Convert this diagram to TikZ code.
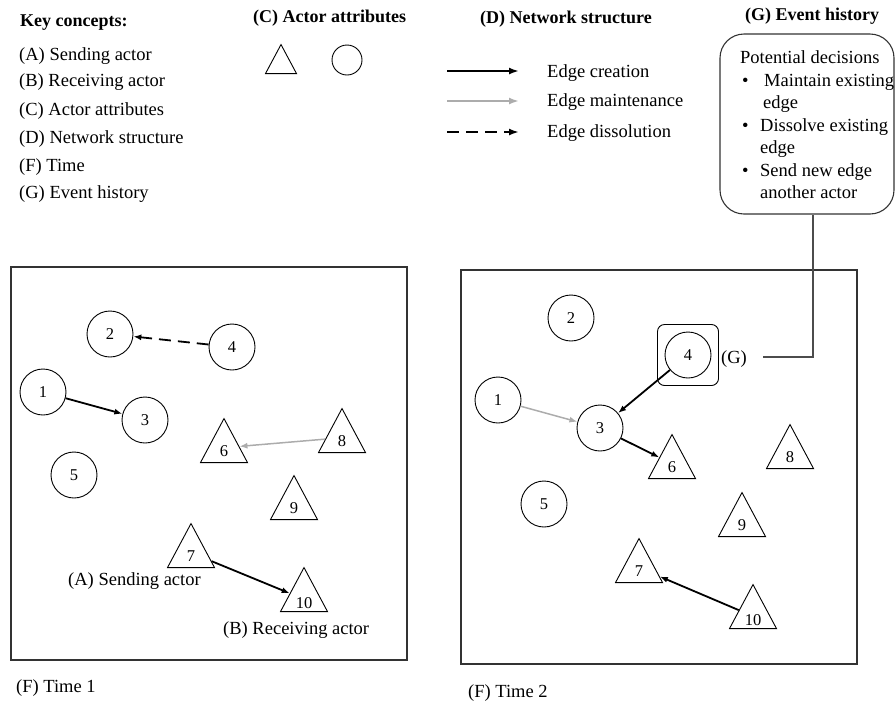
\documentclass[tikz,border=0pt]{standalone}
\usepackage{fontspec}
\setmainfont{Liberation Serif}
\usetikzlibrary{shapes.geometric, arrows.meta}

\begin{document}
\begin{tikzpicture}[x=1pt, y=-1pt,
  txt/.style={font=\fontsize{18.5}{22}\selectfont, inner sep=0pt, anchor=base west},
  head/.style={txt, font=\fontsize{18}{22}\selectfont\bfseries},
  numfont/.style={font=\fontsize{16.5}{18}\selectfont},
  actor/.style={circle, draw, line width=0.9pt, minimum size=46pt, inner sep=0pt, numfont},
  tri/.style={isosceles triangle, isosceles triangle stretches, shape border rotate=90,
    draw, line width=0.9pt, minimum width=47pt, minimum height=44pt, inner sep=0pt,
    text height=18pt, text depth=0pt, anchor=lower side, numfont},
  panel/.style={draw=black!80, line width=1.1pt},
  create/.style={-{Latex[length=8pt,width=6pt]}, line width=1.8pt, black},
  maintain/.style={-{Latex[length=8pt,width=6pt]}, line width=1.5pt, gray!65},
  dissolve/.style={-{Latex[length=8pt,width=6pt]}, line width=1.8pt, black,
    dash pattern=on 12pt off 7pt},
  legtip/.style={-{Latex[length=10pt,width=7pt]}, line width=2.3pt},
  link/.style={draw=black!70, line width=1.2pt}
]
\useasboundingbox (0,0) rectangle (896,705);

% ---------- key concepts ----------
\node[head] (keyhead) at (20,26) {Key concepts:};
\node[txt] (keyA) at (19,60)  {(A) Sending actor};
\node[txt] (keyB) at (19,86)  {(B) Receiving actor};
\node[txt] (keyC) at (19,115) {(C) Actor attributes};
\node[txt] (keyD) at (19,143) {(D) Network structure};
\node[txt] (keyF) at (19,171) {(F) Time};
\node[txt] (keyG) at (19,198) {(G) Event history};

% ---------- actor attributes ----------
\node[head] (attrhead) at (253,22) {(C) Actor attributes};
\node[tri, minimum width=31pt, minimum height=29pt, text height=0pt] (attrtri) at (281,74) {};
\node[actor, minimum size=30pt] (attrcirc) at (347,60) {};

% ---------- network structure legend ----------
\node[head] (nethead) at (480,23) {(D) Network structure};
\coordinate (lc1) at (447,71);  \coordinate (lc2) at (519,71);
\coordinate (lm1) at (447,101); \coordinate (lm2) at (519,101);
\coordinate (ld1) at (447,132); \coordinate (ld2) at (519,132);
\draw[create, legtip] (lc1) -- (lc2);
\draw[maintain, legtip] (lm1) -- (lm2);
\draw[dissolve, legtip] (ld1) -- (ld2);
\node[txt] (legc) at (547,77)  {Edge creation};
\node[txt] (legm) at (547,106) {Edge maintenance};
\node[txt] (legd) at (547,137) {Edge dissolution};

% ---------- event history ----------
\node[head] (evhead) at (745,20) {(G) Event history};
\node[draw=black!80, line width=1.1pt, rounded corners=24pt,
      minimum width=174pt, minimum height=180pt, inner sep=0pt] (evbox) at (807,124) {};
\node[txt] (ev0) at (740,63)  {Potential decisions};
\node[txt] (evb1) at (742,86)  {•};
\node[txt] (ev1) at (764,86)  {Maintain existing};
\node[txt] (ev1b) at (763,108) {edge};
\node[txt] (evb2) at (742,131) {•};
\node[txt] (ev2) at (760,131) {Dissolve existing};
\node[txt] (ev2b) at (760,153) {edge};
\node[txt] (evb3) at (742,176) {•};
\node[txt] (ev3) at (760,176) {Send new edge};
\node[txt] (ev3b) at (760,198) {another actor};

% ---------- time 1 ----------
\draw[panel] (11,267) rectangle (407,660);
\node[actor] (L1) at (43,392)  {1};
\node[actor] (L2) at (110,334) {2};
\node[actor] (L3) at (145,420) {3};
\node[actor] (L4) at (232,347) {4};
\node[actor] (L5) at (74,475)  {5};
\node[tri] (L6)  at (224,463) {6};
\node[tri] (L7)  at (191,568) {7};
\node[tri] (L8)  at (342,453) {8};
\node[tri] (L9)  at (294,520) {9};
\node[tri] (L10) at (304,612) {10};
\draw[create]   (L1) -- (L3);
\draw[dissolve] (L4) -- (L2);
\draw[maintain] (L8) -- (L6);
\draw[create]   (L7) -- (L10);
\node[txt] (sendlbl) at (68,585)  {(A) Sending actor};
\node[txt] (recvlbl) at (223,634) {(B) Receiving actor};
\node[txt] (time1)   at (16,692)  {(F) Time 1};

% ---------- time 2 ----------
\draw[panel] (461,270) rectangle (857,664);
\node[actor] (R1) at (498,400) {1};
\node[actor] (R2) at (571,318) {2};
\node[actor] (R3) at (600,428) {3};
\node[actor] (R4) at (688,355) {4};
\node[actor] (R5) at (544,504) {5};
\node[draw, line width=0.9pt, rounded corners=7pt, minimum size=61pt] (R4frame) at (688,355) {};
\node[tri] (R6)  at (672,479) {6};
\node[tri] (R7)  at (639,583) {7};
\node[tri] (R8)  at (790,469) {8};
\node[tri] (R9)  at (742,537) {9};
\node[tri] (R10) at (753,629) {10};
\draw[maintain] (R1) -- (R3);
\draw[create]   (R4) -- (R3);
\draw[create]   (R3) -- (R6);
\draw[create]   (R10) -- (R7);
\node[txt] (glbl) at (721,363) {(G)};
\coordinate (gtail) at (763,357);
\draw[link] (gtail) -| ([xshift=6pt]evbox.south);
\node[txt] (time2) at (468,697) {(F) Time 2};
\end{tikzpicture}
\end{document}
